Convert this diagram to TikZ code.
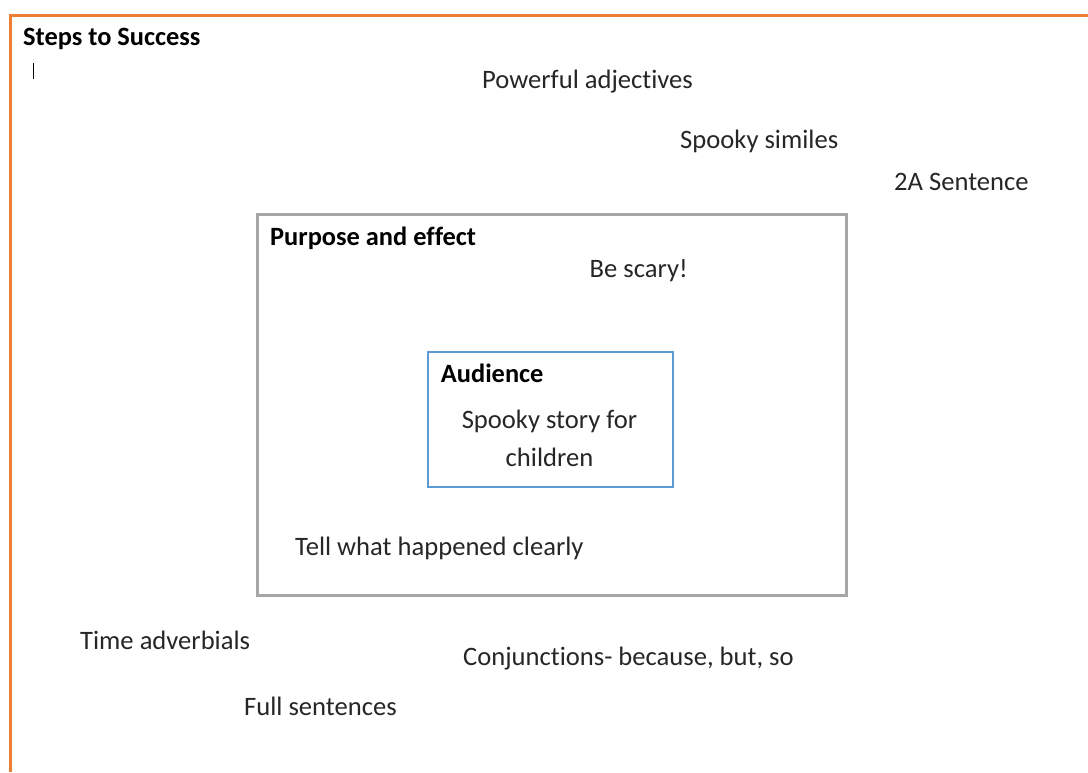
\documentclass[tikz,border=0pt]{standalone}
\usepackage{fontspec}
\setmainfont{Carlito}[Ligatures={NoCommon}]
\usepackage{tikz}
\definecolor{wordorange}{HTML}{ED7D31}
\definecolor{wordgrey}{HTML}{A6A6A6}
\definecolor{wordblue}{HTML}{5B9BD5}
\tikzstyle{idea} = [inner sep=0pt, anchor=base west, font=\fontsize{26.6}{31}\selectfont, text=black!85]
\tikzstyle{heading} = [idea, font=\fontsize{26.4}{31}\selectfont\bfseries, text=black]
\tikzstyle{outerbox} = [draw=wordgrey, line width=3pt, rectangle, inner sep=0pt]
\tikzstyle{innerbox} = [draw=wordblue, line width=2pt, rectangle, inner sep=0pt]
\begin{document}
\begin{tikzpicture}[x=1pt, y=-1pt]
	\useasboundingbox (0,0) rectangle (1088,772);
	\draw[wordorange, line width=3pt] (10.5,772) -- (10.5,15) -- (1088,15);
	\node[heading](title) at (23,45) {Steps to Success};
	\draw[black, line width=1.5pt] (33.5,63) -- (33.5,79);
	\node[idea](adj) at (482,88.3) {Powerful adjectives};
	\node[idea](similes) at (680,148.3) {Spooky similes};
	\node[idea](twoA) at (894,190) {2A Sentence};
	\node[outerbox, minimum width=589pt, minimum height=381pt](purpose) at (551.5,404.75) {};
	\node[heading](purposetitle) at (270,245) {Purpose and effect};
	\node[idea](scary) at (589.5,277.3) {Be scary!};
	\node[innerbox, minimum width=245pt, minimum height=135pt](audience) at (550.5,419.5) {};
	\node[heading](audiencetitle) at (440.7,382.7) {Audience};
	\node[idea, anchor=base, align=center, font=\fontsize{26.6}{37.5}\selectfont](story) at (549.5,466) {Spooky story for\\children};
	\node[idea](clearly) at (295,555) {Tell what happened clearly};
	\node[idea](adverbials) at (80,649.3) {Time adverbials};
	\node[idea](conj) at (463,665) {Conjunctions- because, but, so};
	\node[idea](full) at (244,715) {Full sentences};
\end{tikzpicture}
\end{document}
